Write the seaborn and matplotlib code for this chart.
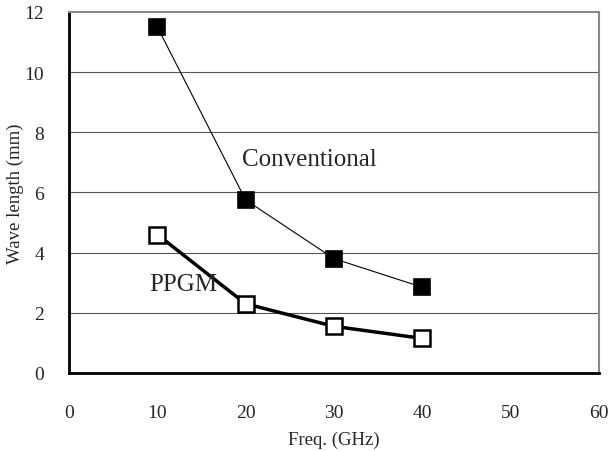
import pandas as pd
import matplotlib
matplotlib.use('Agg')
import matplotlib.pyplot as plt
import seaborn as sns

freq = [10, 20, 30, 40]
conventional = [11.5, 5.75, 3.8, 2.85]
ppgm = [4.6, 2.3, 1.55, 1.15]
x_ticks = [0, 10, 20, 30, 40, 50, 60]
y_ticks = [0, 2, 4, 6, 8, 10, 12]

conv_df = pd.DataFrame({'Freq': freq, 'Wave': conventional})
ppgm_df = pd.DataFrame({'Freq': freq, 'Wave': ppgm})

sns.set_style('white')
plt.rcParams['font.family'] = ['Liberation Serif', 'DejaVu Serif']

fig = plt.figure(figsize=(6.11, 4.52), dpi=100)
ax = fig.add_axes([0.113, 0.1726, 0.867, 0.799])

# horizontal grid lines
for y in y_ticks[1:-1]:
    ax.axhline(y, color='#555555', lw=0.8, zorder=0)

sns.lineplot(x='Freq', y='Wave', data=conv_df, ax=ax, color='black', lw=0.8,
             marker='s', markersize=11.5, markerfacecolor='black',
             markeredgecolor='black', markeredgewidth=1.2, zorder=3)
sns.lineplot(x='Freq', y='Wave', data=ppgm_df, ax=ax, color='black', lw=2.5,
             marker='s', markersize=11.5, markerfacecolor='white',
             markeredgecolor='black', markeredgewidth=1.8, zorder=3)

ax.text(19.6, 7.1, 'Conventional', fontsize=18, va='center', ha='left')
ax.text(9.1, 2.95, 'PPGM', fontsize=18, va='center', ha='left')

ax.set_xlim(0, 60)
ax.set_ylim(0, 12)
ax.set_xticks(x_ticks)
ax.set_yticks(y_ticks)
ax.tick_params(axis='x', direction='in', length=5, width=1, color='#777777',
               labelsize=14, pad=22)
ax.tick_params(axis='y', length=0, labelsize=14, pad=18)
ax.set_xlabel('Freq. (GHz)', fontsize=13.5, labelpad=7)
ax.set_ylabel('Wave length (mm)', fontsize=13.5, labelpad=0)

for side in ['left', 'bottom']:
    ax.spines[side].set_color('black')
    ax.spines[side].set_linewidth(2)
for side in ['top', 'right']:
    ax.spines[side].set_color('#888888')
    ax.spines[side].set_linewidth(1.5)

fig.savefig('out.png', dpi=100)
